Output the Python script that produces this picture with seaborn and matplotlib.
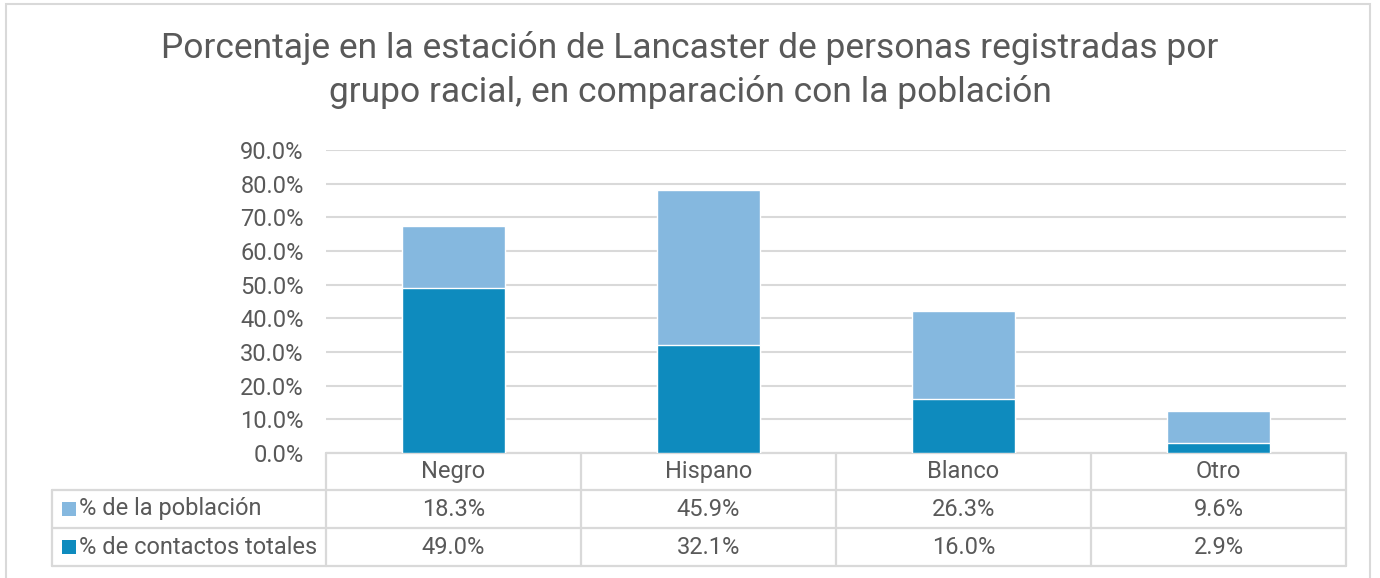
import matplotlib
matplotlib.use("Agg")
import matplotlib.pyplot as plt
import matplotlib.transforms as mtransforms
from matplotlib.patches import Rectangle
import seaborn as sns
import pandas as pd
import numpy as np

# Data
grupos = ["Negro", "Hispano", "Blanco", "Otro"]
poblacion = [18.3, 45.9, 26.3, 9.6]
contactos = [49.0, 32.1, 16.0, 2.9]
serie_poblacion = "% de la población"
serie_contactos = "% de contactos totales"
titulo = "Porcentaje en la estación de Lancaster de personas registradas por\ngrupo racial, en comparación con la población"

COL_POB = "#85B8DF"
COL_CON = "#0E8BBE"
GRID = "#D9D9D9"
TXT = "#595959"

sns.set_theme(style="white")
plt.rcParams["font.family"] = ["Roboto", "DejaVu Sans"]

df = pd.DataFrame({"grupo": grupos, "poblacion": poblacion, "contactos": contactos})
df["total"] = df["poblacion"] + df["contactos"]

W, H = 1380, 578
fig = plt.figure(figsize=(W / 100, H / 100), dpi=100)
ax = fig.add_axes([326 / W, 1 - 453 / H, (1346 - 326) / W, (453 - 150) / H])

# Stacked bars: population share sits on top of the contacts share
sns.barplot(data=df, x="grupo", y="total", color=COL_POB, width=0.405,
            saturation=1, ax=ax, zorder=2)
sns.barplot(data=df, x="grupo", y="contactos", color=COL_CON, width=0.405,
            saturation=1, ax=ax, zorder=3)

ax.set_ylim(0, 90)
ax.set_xlim(-0.5, len(grupos) - 0.5)
ax.set_yticks(np.arange(0, 91, 10))
ax.set_yticklabels([f"{v:.1f}%" for v in np.arange(0, 91, 10)], color=TXT, fontsize=17)
ax.tick_params(axis="y", length=0, pad=16)
ax.set_xticks([])
ax.set_xlabel("")
ax.set_ylabel("")
ax.yaxis.grid(True, color=GRID, linewidth=1.5, zorder=0)
ax.set_axisbelow(True)
for s in ax.spines.values():
    s.set_visible(False)

# Data table under the plot
trans = mtransforms.blended_transform_factory(ax.transData, ax.transAxes)
h = 303.0
row_y = [0.0, -37 / h, -75 / h, -113 / h]
line_kw = dict(color=GRID, linewidth=1.6, clip_on=False, transform=trans, zorder=1)
n = len(grupos)
for y in row_y:
    ax.plot([-0.5, n - 0.5], [y, y], **line_kw)
for i in range(n + 1):
    ax.plot([i - 0.5, i - 0.5], [row_y[0], row_y[3]], **line_kw)

fig_line = dict(color=GRID, linewidth=1.6, transform=fig.transFigure)
left_px = 52
for ypx in (490, 528, 566):
    fig.add_artist(plt.Line2D([left_px / W, 326 / W], [1 - ypx / H, 1 - ypx / H], **fig_line))
fig.add_artist(plt.Line2D([left_px / W, left_px / W], [1 - 490 / H, 1 - 566 / H], **fig_line))

fs = 17
for i, g in enumerate(grupos):
    ax.text(i, (row_y[0] + row_y[1]) / 2, g, transform=trans, ha="center", va="center",
            fontsize=fs, color=TXT)
    ax.text(i, (row_y[1] + row_y[2]) / 2, f"{poblacion[i]:.1f}%", transform=trans,
            ha="center", va="center", fontsize=fs, color=TXT)
    ax.text(i, (row_y[2] + row_y[3]) / 2, f"{contactos[i]:.1f}%", transform=trans,
            ha="center", va="center", fontsize=fs, color=TXT)

for ypx, lab, col in ((509, serie_poblacion, COL_POB), (547, serie_contactos, COL_CON)):
    fig.add_artist(Rectangle((62 / W, 1 - (ypx + 7) / H), 14 / W, 14 / H,
                             transform=fig.transFigure, facecolor=col, edgecolor="none"))
    fig.text(79 / W, 1 - ypx / H, lab, ha="left", va="center", fontsize=fs, color=TXT)

fig.suptitle(titulo, x=0.5, y=1 - 31 / H, va="top", fontsize=25.5, color=TXT,
             linespacing=1.36)

# Outer chart frame
fig.add_artist(Rectangle((6 / W, -0.05), 1364 / W, 1.05 - 4 / H, transform=fig.transFigure,
                         facecolor="none", edgecolor=GRID, linewidth=1.5))

fig.savefig("out.png", dpi=100)
